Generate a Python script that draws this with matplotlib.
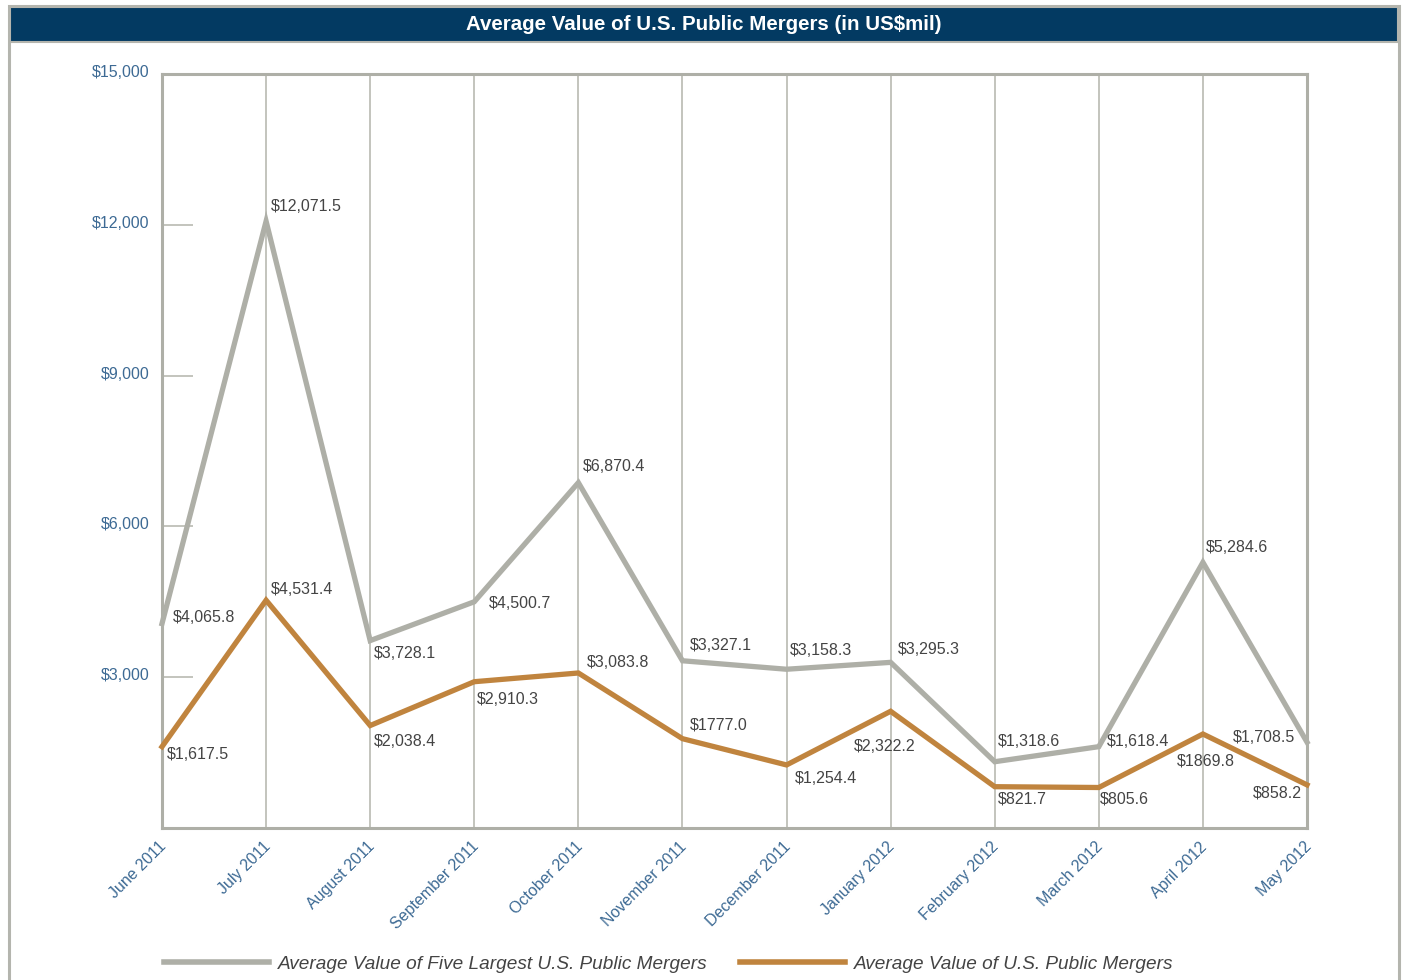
import matplotlib
matplotlib.use("Agg")
import matplotlib.pyplot as plt
import matplotlib.transforms as mtransforms
from matplotlib.lines import Line2D
from matplotlib.patches import Rectangle

months = ["June 2011", "July 2011", "August 2011", "September 2011", "October 2011",
          "November 2011", "December 2011", "January 2012", "February 2012",
          "March 2012", "April 2012", "May 2012"]
top5 = [4065.8, 12071.5, 3728.1, 4500.7, 6870.4, 3327.1, 3158.3, 3295.3,
        1318.6, 1618.4, 5284.6, 1708.5]
avg = [1617.5, 4531.4, 2038.4, 2910.3, 3083.8, 1777.0, 1254.4, 2322.2,
       821.7, 805.6, 1869.8, 858.2]
top5_labels = ["$4,065.8", "$12,071.5", "$3,728.1", "$4,500.7", "$6,870.4", "$3,327.1",
               "$3,158.3", "$3,295.3", "$1,318.6", "$1,618.4", "$5,284.6", "$1,708.5"]
avg_labels = ["$1,617.5", "$4,531.4", "$2,038.4", "$2,910.3", "$3,083.8", "$1777.0",
              "$1,254.4", "$2,322.2", "$821.7", "$805.6", "$1869.8", "$858.2"]
yticks = [0, 3000, 6000, 9000, 12000, 15000]
ytick_labels = ["", "$3,000", "$6,000", "$9,000", "$12,000", "$15,000"]
series_names = ["Average Value of Five Largest U.S. Public Mergers",
                "Average Value of U.S. Public Mergers"]

# label placement (pixel offsets from the point, horizontal alignment)
top5_offsets = [(11, 6, "left"), (5, 15, "left"), (4, -13, "left"), (15, -2, "left"),
                (5, 16, "left"), (7, 15, "left"), (3, 19, "left"), (7, 13, "left"),
                (3, 20, "left"), (8, 5, "left"), (3, 15, "left"), (-12, 5, "right")]
avg_offsets = [(5, -8, "left"), (5, 11, "left"), (4, -16, "left"), (3, -18, "left"),
               (9, 10, "left"), (7, 14, "left"), (8, -14, "left"), (-6, -35, "center"),
               (3, -12, "left"), (1, -11, "left"), (3, -27, "center"), (-5, -8, "right")]

GRAY = "#AEAFA7"
ORANGE = "#C0843E"
NAVY = "#033A62"
BLUE = "#3D6A94"
TXT = "#444444"
FONT = "Liberation Sans"

W, H = 1404, 980
fig = plt.figure(figsize=(W / 100, H / 100), dpi=100)
fig.patch.set_facecolor("white")

def fx(px):
    return px / W

def fy(py):
    return 1 - py / H

# outer frame and title bar
fig.add_artist(Rectangle((fx(9), fy(1000)), fx(1399) - fx(9), fy(6) - fy(1000),
                         transform=fig.transFigure, facecolor="white",
                         edgecolor="#B4B5AE", linewidth=2.2, zorder=0))
fig.add_artist(Rectangle((fx(10), fy(42)), fx(1398) - fx(10), fy(7) - fy(42),
                         transform=fig.transFigure, facecolor=NAVY,
                         edgecolor="#B4B5AE", linewidth=1.5, zorder=1))
fig.text(fx(704), fy(24.5), "Average Value of U.S. Public Mergers (in US$mil)",
         color="white", fontsize=14.8, fontweight="bold", family=FONT,
         ha="center", va="center")

ax = fig.add_axes([fx(162), fy(828), fx(1307) - fx(162), fy(74) - fy(828)])
x = list(range(len(months)))
ax.set_xlim(0, len(months) - 1)
ax.set_ylim(0, 15000)

for s in ax.spines.values():
    s.set_color(GRAY)
    s.set_linewidth(2.2)

ax.set_xticks(x)
ax.set_xticklabels(months, rotation=45, ha="right", va="top",
                   rotation_mode="default", color=BLUE, fontsize=11.5, family=FONT)
ax.tick_params(axis="x", length=0, pad=8)
shift = mtransforms.ScaledTranslation(7 / 100, 0, fig.dpi_scale_trans)
for lab in ax.get_xticklabels():
    lab.set_transform(lab.get_transform() + shift)
ax.grid(axis="x", color="#B9BAB2", linewidth=1.2)
ax.set_axisbelow(True)

ax.set_yticks(yticks)
ax.set_yticklabels(ytick_labels, color=BLUE, fontsize=11.5, family=FONT)
ax.tick_params(axis="y", direction="in", length=22, width=1.2, color="#B9BAB2", pad=9)
yshift = mtransforms.ScaledTranslation(0, 3 / 100, fig.dpi_scale_trans)
for lab in ax.get_yticklabels():
    lab.set_transform(lab.get_transform() + yshift)

ax.plot(x, top5, color=GRAY, linewidth=3.8, solid_joinstyle="miter", zorder=3,
        clip_on=False)
ax.plot(x, avg, color=ORANGE, linewidth=3.8, solid_joinstyle="miter", zorder=4,
        clip_on=False)

for xi, v, lab, (dx, dy, ha) in zip(x, top5, top5_labels, top5_offsets):
    ax.annotate(lab, (xi, v), xytext=(dx, dy), textcoords="offset pixels",
                ha=ha, va="center", color=TXT, fontsize=11.5, family=FONT, zorder=5)
for xi, v, lab, (dx, dy, ha) in zip(x, avg, avg_labels, avg_offsets):
    ax.annotate(lab, (xi, v), xytext=(dx, dy), textcoords="offset pixels",
                ha=ha, va="center", color=TXT, fontsize=11.5, family=FONT, zorder=5)

# legend
handles = [Line2D([], [], color=GRAY, linewidth=4.0),
           Line2D([], [], color=ORANGE, linewidth=4.0)]
leg = fig.legend(handles, series_names, loc="center", bbox_to_anchor=(fx(669), fy(964)),
                 ncol=2, frameon=False, handlelength=5.5, handletextpad=0.5,
                 columnspacing=1.7, prop={"family": FONT, "style": "italic", "size": 13.7})
for t in leg.get_texts():
    t.set_color(TXT)

fig.savefig("out.png", dpi=100)
